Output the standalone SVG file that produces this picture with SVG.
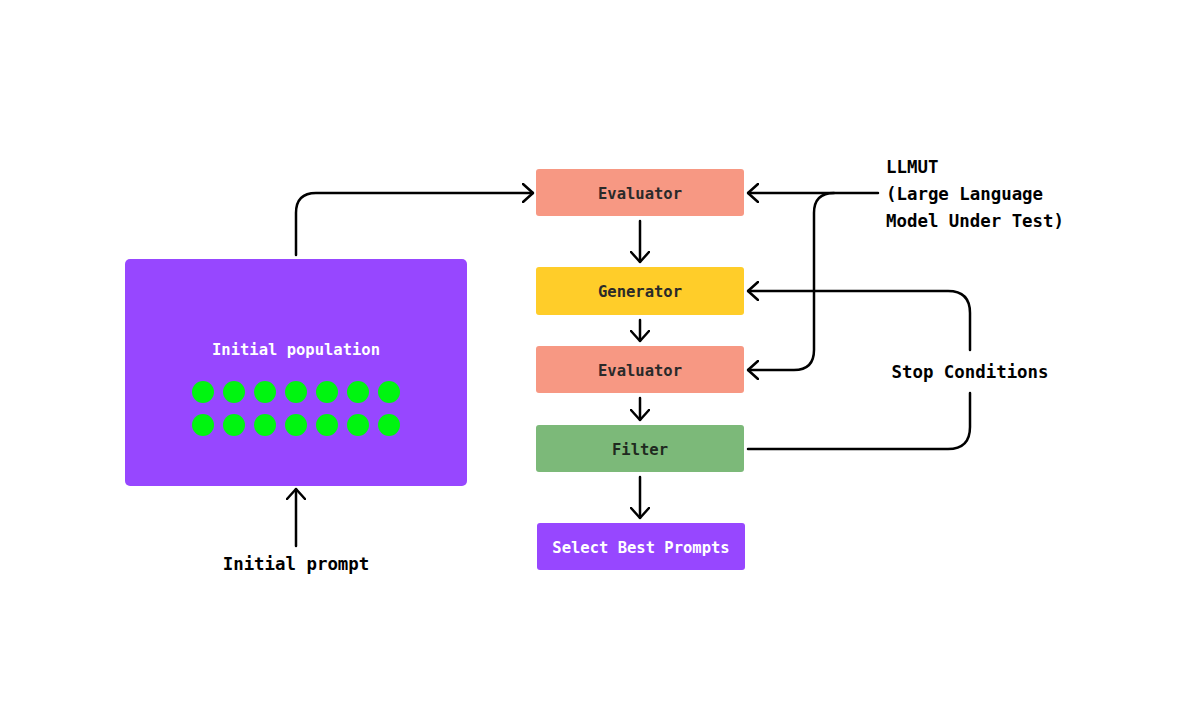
<svg xmlns="http://www.w3.org/2000/svg" width="1192" height="726" viewBox="0 0 1192 726">
<defs>
<marker id="arr" viewBox="0 0 12 20" refX="11" refY="10" markerWidth="12" markerHeight="20" markerUnits="userSpaceOnUse" orient="auto">
<path d="M1,1 L11,10 L1,19" fill="none" stroke="#000" stroke-width="2.5" stroke-linecap="round" stroke-linejoin="round"/>
</marker>
<style>
.box{stroke:none}
.lbl{font-family:"DejaVu Sans Mono","Liberation Mono",monospace;font-weight:bold;font-size:15.5px;text-anchor:middle}
.out{font-family:"DejaVu Sans Mono","Liberation Mono",monospace;font-weight:bold;font-size:17.4px;fill:#000}
.ln{fill:none;stroke:#000;stroke-width:2.5;stroke-linecap:round;stroke-linejoin:round}
.dot{fill:#00F510}
</style>
</defs>
<rect width="1192" height="726" fill="#fff"/>
<g id="initial-population">
<rect class="box" x="125" y="259" width="342" height="227" rx="5" fill="#9747FF"/>
<text class="lbl" x="296" y="355" fill="#fff">Initial population</text>
<g>
<circle class="dot" cx="203" cy="392" r="11"/><circle class="dot" cx="234" cy="392" r="11"/><circle class="dot" cx="265" cy="392" r="11"/><circle class="dot" cx="296" cy="392" r="11"/><circle class="dot" cx="327" cy="392" r="11"/><circle class="dot" cx="358" cy="392" r="11"/><circle class="dot" cx="389" cy="392" r="11"/>
<circle class="dot" cx="203" cy="425" r="11"/><circle class="dot" cx="234" cy="425" r="11"/><circle class="dot" cx="265" cy="425" r="11"/><circle class="dot" cx="296" cy="425" r="11"/><circle class="dot" cx="327" cy="425" r="11"/><circle class="dot" cx="358" cy="425" r="11"/><circle class="dot" cx="389" cy="425" r="11"/>
</g>
</g>
<g id="evaluator1">
<rect class="box" x="536" y="169" width="208" height="47" rx="3" fill="#F79883"/>
<text class="lbl" x="640" y="199" fill="#2a2a2a">Evaluator</text>
</g>
<g id="generator">
<rect class="box" x="536" y="267" width="208" height="48" rx="3" fill="#FFCD29"/>
<text class="lbl" x="640" y="297" fill="#2a2a2a">Generator</text>
</g>
<g id="evaluator2">
<rect class="box" x="536" y="346" width="208" height="47" rx="3" fill="#F79883"/>
<text class="lbl" x="640" y="376" fill="#2a2a2a">Evaluator</text>
</g>
<g id="filter">
<rect class="box" x="536" y="425" width="208" height="47" rx="3" fill="#7CB979"/>
<text class="lbl" x="640" y="455" fill="#1f2a1f">Filter</text>
</g>
<g id="select">
<rect class="box" x="537" y="523" width="208" height="47" rx="3" fill="#9747FF"/>
<text class="lbl" x="641" y="553" fill="#fff">Select Best Prompts</text>
</g>
<g id="llmut">
<text class="out" x="886" y="173">LLMUT</text>
<text class="out" x="886" y="200">(Large Language</text>
<text class="out" x="886" y="227">Model Under Test)</text>
</g>
<g id="stop-conditions">
<text class="out" x="970" y="378" text-anchor="middle">Stop Conditions</text>
</g>
<g id="initial-prompt">
<text class="out" x="296" y="570" text-anchor="middle">Initial prompt</text>
</g>
<g id="connectors">
<path class="ln" d="M296,255 V213 Q296,193 316,193 H533" marker-end="url(#arr)"/>
<path class="ln" d="M640,221 V262" marker-end="url(#arr)"/>
<path class="ln" d="M640,320 V341" marker-end="url(#arr)"/>
<path class="ln" d="M640,398 V420" marker-end="url(#arr)"/>
<path class="ln" d="M640,477 V518" marker-end="url(#arr)"/>
<path class="ln" d="M878,193 H748" marker-end="url(#arr)"/>
<path class="ln" d="M834,193 Q814,193 814,213 V350 Q814,370 794,370 H748" marker-end="url(#arr)"/>
<path class="ln" d="M970,350 V313 Q970,291 948,291 H748" marker-end="url(#arr)"/>
<path class="ln" d="M970,393 V427 Q970,449 948,449 H748"/>
<path class="ln" d="M296,546 V489" marker-end="url(#arr)"/>
</g>
</svg>
